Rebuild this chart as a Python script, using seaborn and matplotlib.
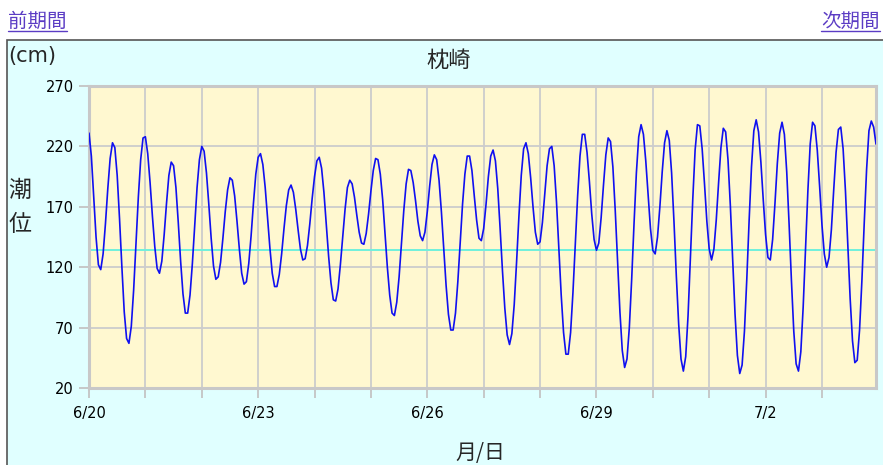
import numpy as np
import pandas as pd
import matplotlib
matplotlib.use("Agg")
import matplotlib.pyplot as plt
import seaborn as sns
from matplotlib.patches import Rectangle
from matplotlib.lines import Line2D

# chart texts
station = "枕崎"
prev_link = "前期間"
next_link = "次期間"
tick_days = ["6/20", "6/23", "6/26", "6/29", "7/2"]
y_ticks = [20, 70, 120, 170, 220, 270]
mean_level = 134

# hourly tide level (cm), 6/20 0h .. 7/3 23h
week1 = [
    231, 212, 179, 145, 122, 118, 131, 156, 185, 210, 223, 219, 196, 160, 120, 83, 61, 57, 71, 101, 139, 178, 209, 227,
    228, 214, 190, 162, 137, 119, 115, 125, 147, 173, 196, 207, 204, 186, 157, 125, 98, 82, 82, 97, 123, 155, 186, 209,
    220, 216, 198, 172, 144, 121, 110, 112, 124, 144, 166, 184, 194, 192, 179, 158, 135, 115, 106, 108, 123, 146, 173, 197,
    211, 214, 205, 186, 161, 136, 115, 104, 104, 114, 131, 152, 171, 184, 188, 182, 168, 151, 135, 126, 127, 138, 156, 177,
    195, 208, 211, 202, 182, 156, 129, 107, 93, 92, 102, 122, 145, 168, 186, 192, 189, 178, 163, 149, 140, 139, 148, 164,
    183, 200, 210, 209, 197, 176, 148, 120, 97, 82, 80, 91, 112, 139, 167, 189, 201, 200, 190, 175, 158, 146, 142, 149,
    166, 187, 205, 213, 209, 192, 166, 135, 105, 81, 68, 68, 82, 108, 140, 172, 197, 212, 212, 200, 179, 159, 144, 142,
]
week2 = [
    152, 172, 195, 212, 217, 208, 185, 152, 117, 86, 64, 56, 65, 89, 124, 162, 196, 218, 223, 214, 194, 170, 149, 139,
    141, 157, 181, 204, 218, 220, 204, 174, 135, 97, 66, 48, 48, 66, 99, 139, 179, 212, 230, 230, 215, 191, 164, 143,
    134, 140, 161, 188, 213, 227, 224, 203, 167, 124, 83, 51, 37, 44, 70, 110, 156, 198, 228, 238, 230, 208, 180, 152,
    134, 131, 145, 170, 199, 223, 233, 225, 198, 158, 113, 73, 44, 34, 46, 80, 127, 176, 217, 238, 237, 218, 189, 158,
    135, 126, 135, 159, 190, 219, 235, 232, 209, 171, 125, 81, 47, 32, 39, 67, 110, 159, 203, 233, 242, 232, 207, 176,
    147, 128, 126, 143, 173, 206, 231, 240, 230, 199, 156, 109, 67, 40, 34, 50, 87, 135, 183, 222, 240, 237, 217, 187,
    155, 131, 120, 128, 151, 184, 215, 234, 236, 218, 183, 138, 94, 59, 41, 43, 68, 109, 157, 201, 233, 241, 236, 222,
]

heights = week1 + week2
df = pd.DataFrame({"hour": np.arange(len(heights)), "tide": heights})

sns.set_style("white")
plt.rcParams["font.family"] = ["DejaVu Sans", "Noto Sans CJK JP"]
cjk = ["Noto Sans CJK JP", "DejaVu Sans"]

W, H = 883, 465
def px(x, y):
    return x / W, 1 - y / H

fig = plt.figure(figsize=(W / 100, H / 100), dpi=100)
fig.patch.set_facecolor("white")

# cyan chart box (behind the axes)
fig.add_artist(Rectangle(px(7.5, 470), 1.1, (470 - 40.5) / H, transform=fig.transFigure,
                         facecolor="#E0FFFF", edgecolor="#555555", lw=1.2, zorder=-10))

ax = fig.add_axes([89 / W, 1 - 388 / H, (876 - 89) / W, (388 - 86) / H])
ax.set_facecolor("#FFF8D0")
ax.axhline(mean_level, color="#70F0DC", lw=1.4, zorder=2)
sns.lineplot(data=df, x="hour", y="tide", ax=ax, color="#1010F0", lw=1.2, zorder=3)

ax.set_xlim(0, len(heights) - 1)
ax.set_ylim(y_ticks[0], y_ticks[-1])
day_ticks = np.arange(0, len(heights), 24)
ax.set_xticks(day_ticks)
ax.set_xticklabels([tick_days[i // 3] if i % 3 == 0 else "" for i in range(len(day_ticks))])
ax.set_yticks(y_ticks)
ax.grid(True, color="#CCCCCC", lw=1.3, zorder=0)
ax.set_axisbelow(True)
ax.tick_params(axis="both", bottom=True, left=True, direction="out", length=7, width=1.3,
               color="#C4C4C4", labelsize=10.5, labelcolor="black")
ax.tick_params(axis="y", pad=4)
ax.tick_params(axis="x", pad=6)
for s in ax.spines.values():
    s.set_color("#C8C8C8")
    s.set_linewidth(2.2)
ax.set_xlabel("")
ax.set_ylabel("")

# texts around the chart
link = "#5B3CC4"
fig.text(*px(8, 21), prev_link, fontsize=14, color=link, family=cjk, va="center", ha="left")
fig.text(*px(880, 21), next_link, fontsize=14, color=link, family=cjk, va="center", ha="right")
fig.add_artist(Line2D([8 / W, 67 / W], [1 - 31 / H] * 2, color=link, lw=1))
fig.add_artist(Line2D([821 / W, 880 / W], [1 - 31 / H] * 2, color=link, lw=1))

fig.text(*px(8, 56), "(cm)", fontsize=15, va="center", ha="left")
fig.text(*px(449, 60), station, fontsize=16, family=cjk, va="center", ha="center")
fig.text(*px(20, 190), "潮", fontsize=16.5, family=cjk, va="center", ha="center")
fig.text(*px(20, 224), "位", fontsize=16.5, family=cjk, va="center", ha="center")
fig.text(*px(480, 453), "月/日", fontsize=15, family=cjk, va="center", ha="center")

fig.savefig("out.png", dpi=100)
